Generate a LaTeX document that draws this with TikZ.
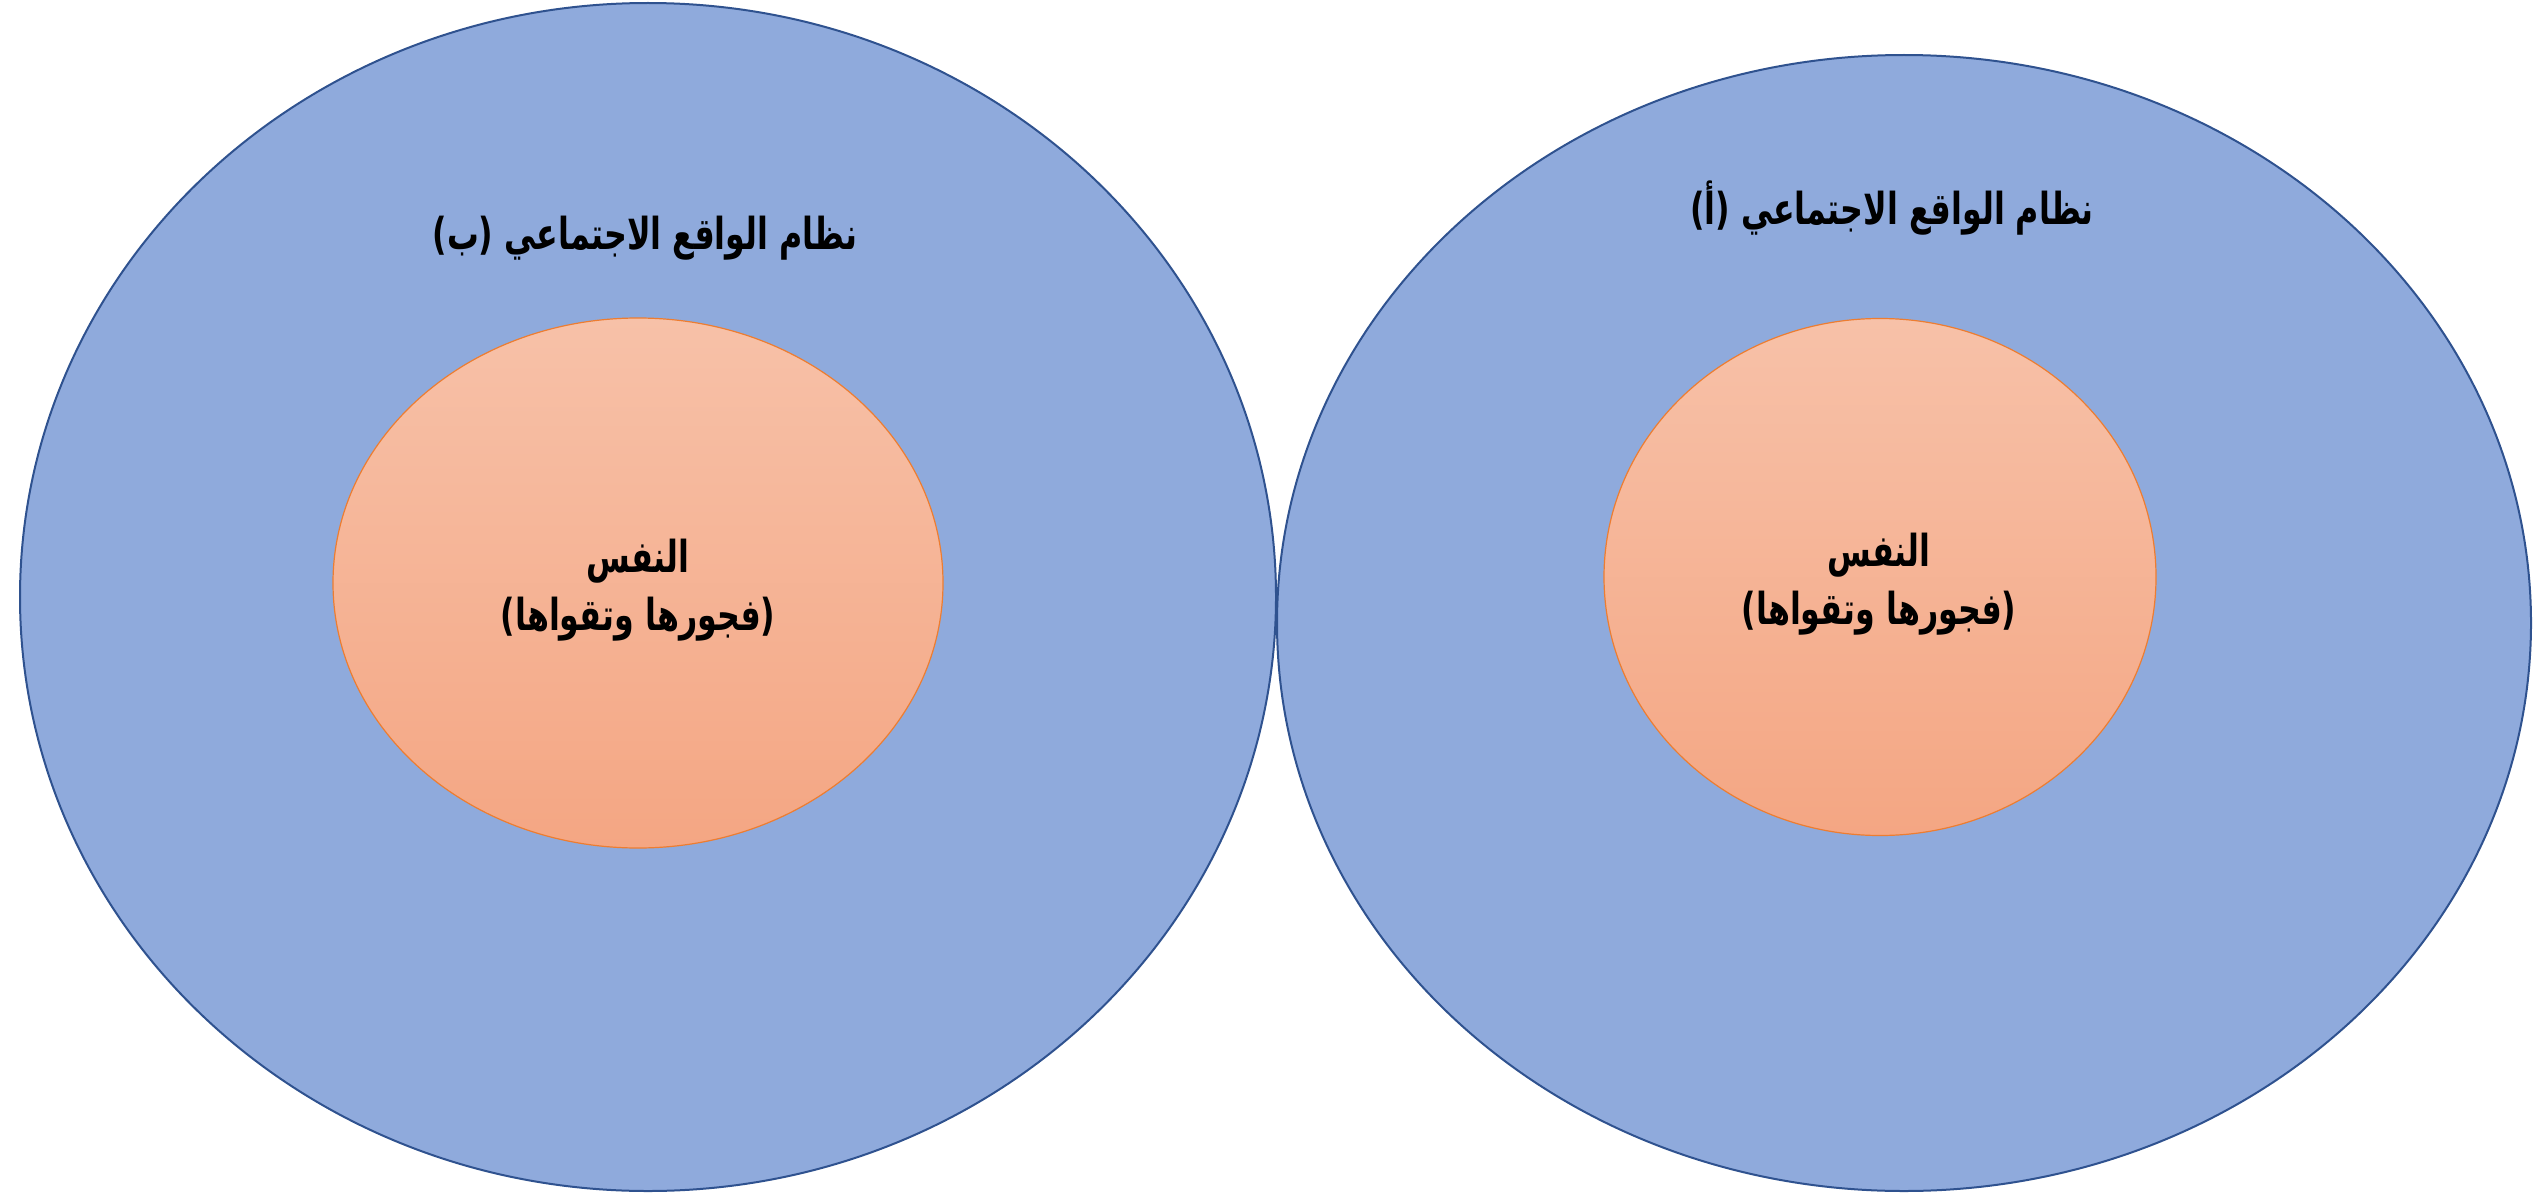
\documentclass[tikz,border=0pt]{standalone}
\usepackage{fontspec}
\usepackage{graphicx}
\usetikzlibrary{shapes.geometric}
\TeXXeTstate=1
\newfontfamily\arabicfont[Script=Arabic]{DejaVu Sans}
\definecolor{outerfill}{HTML}{8FAADC}
\definecolor{outerline}{HTML}{2F528F}
\definecolor{innertop}{HTML}{F7C1A8}
\definecolor{innerbot}{HTML}{F4A683}
\definecolor{innerline}{HTML}{ED7D31}
% narrowed right-to-left line
\newcommand{\rtlline}[1]{\scalebox{0.72}[1]{\beginR #1\endR}}
\begin{document}
\begin{tikzpicture}[x=1pt,y=-1pt,
  outer/.style={ellipse, draw=outerline, line width=2pt, fill=outerfill, inner sep=0pt},
  inner/.style={ellipse, draw=innerline, line width=1.2pt, top color=innertop, bottom color=innerbot, inner sep=0pt},
  label/.style={font=\arabicfont\bfseries\fontsize{44}{58}\selectfont, align=center, inner sep=0pt}]
\useasboundingbox (0,0) rectangle (2534,1196);
% the two social systems
\node[outer, minimum width=1256pt, minimum height=1188pt] (sysB) at (648,597) {};
\node[outer, minimum width=1254pt, minimum height=1136pt] (sysA) at (1904,623) {};
% the self inside each system
\node[inner, minimum width=610pt, minimum height=530pt] (selfB) at (638,583) {};
\node[inner, minimum width=552pt, minimum height=517pt] (selfA) at (1880,577) {};
% titles
\node[label] (titleB) at (645,238) {\rtlline{نظام الواقع الاجتماعي (ب)}};
\node[label] (titleA) at (1892,208) {\rtlline{نظام الواقع الاجتماعي (أ)}};
% inner texts
\node[label] (textB) at (638,590) {\rtlline{النفس}\\\rtlline{(فجورها وتقواها)}};
\node[label] (textA) at (1879,584) {\rtlline{النفس}\\\rtlline{(فجورها وتقواها)}};
\end{tikzpicture}
\end{document}
